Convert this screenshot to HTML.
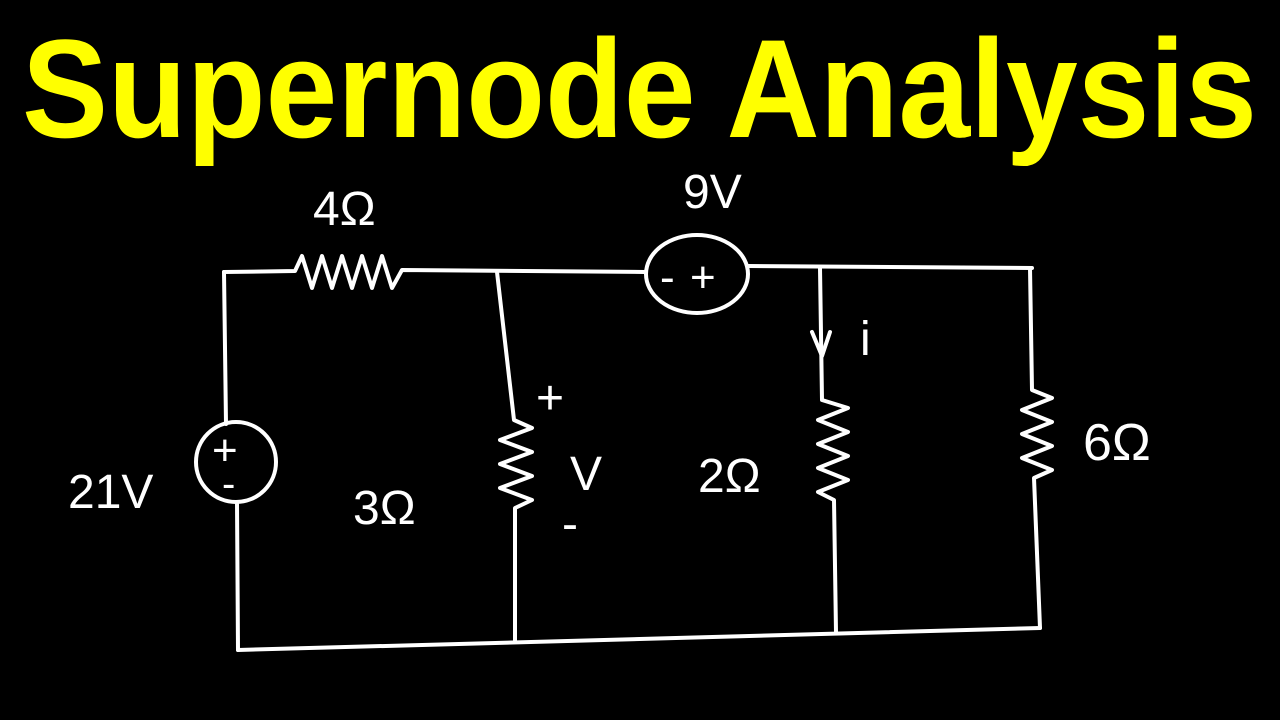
<!DOCTYPE html>
<html><head><meta charset="utf-8"><style>
html,body{margin:0;padding:0;background:#000;width:1280px;height:720px;overflow:hidden}
svg{display:block}
</style></head><body>
<svg width="1280" height="720" viewBox="0 0 1280 720" xmlns="http://www.w3.org/2000/svg">
<rect width="1280" height="720" fill="#000"/>
<text x="22" y="137" font-family="'Liberation Sans',sans-serif" font-weight="bold" font-size="140" fill="#ffff00" textLength="1235" lengthAdjust="spacingAndGlyphs">Supernode Analysis</text>
<g stroke="#fff" stroke-width="4" fill="none" stroke-linecap="round" stroke-linejoin="round">
<path d="M224 272 L295 271 L302 256 L312 288 L322 256 L332 288 L342 256 L352 288 L362 256 L372 288 L382 256 L392 288 L402 270 L645 272"/>
<ellipse cx="697" cy="274" rx="51" ry="39"/>
<path d="M748 266 L1032 268"/>
<path d="M224 272 L226 424"/>
<circle cx="236" cy="462" r="40"/>
<path d="M237 502 L238 650"/>
<path d="M238 650 L1040 628"/>
<path d="M497 272 L514 420 L532 428 L500 440 L532 452 L500 464 L532 476 L500 488 L532 500 L515 508 L515 640"/>
<path d="M820 268 L822 400 L848 408 L818 420 L848 432 L818 444 L848 456 L818 468 L848 480 L818 492 L834 500 L836 632"/>
<path d="M812 332 L822 356 L830 332"/>
<path d="M1030 268 L1032 390 L1052 398 L1022 410 L1052 422 L1022 434 L1052 446 L1022 458 L1052 470 L1034 478 L1040 628"/>
</g>
<g fill="#fff" font-family="'Liberation Sans',sans-serif" font-size="48">
<text x="313" y="225">4Ω</text>
<text x="683" y="208">9V</text>
<text x="68" y="508">21V</text>
<text x="353" y="524">3Ω</text>
<text x="698" y="492">2Ω</text>
<text x="1083" y="460" font-size="52">6Ω</text>
<text x="536" y="414">+</text>
<text x="570" y="490">V</text>
<text x="562" y="540">-</text>
<text x="860" y="355">i</text>
<text x="212" y="465" font-size="44">+</text>
<text x="222" y="497" font-size="40">-</text>
<text x="660" y="292" font-size="44">-</text>
<text x="690" y="292" font-size="44">+</text>
</g>
</svg>
</body></html>
